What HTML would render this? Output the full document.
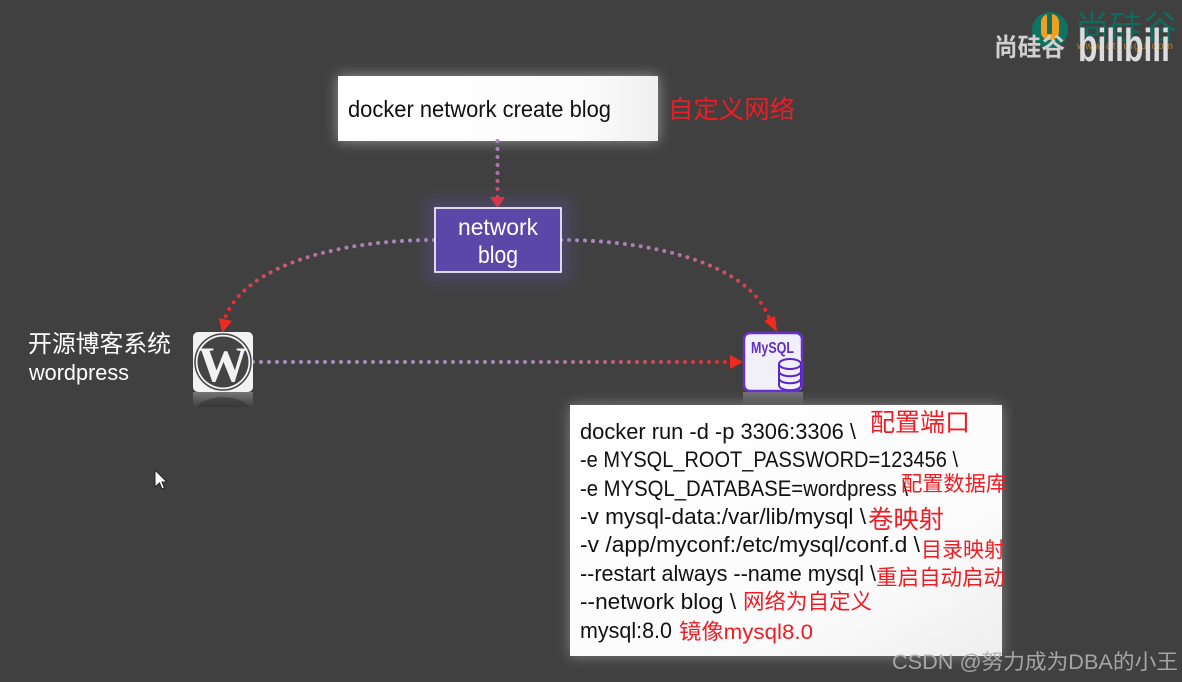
<!DOCTYPE html>
<html><head><meta charset="utf-8">
<style>
html,body{margin:0;padding:0;background:#404040}
svg{display:block}
text{font-family:"Liberation Sans","Noto Sans CJK SC",sans-serif}
.c{font-size:22px;fill:#111}
.r{fill:#f01c24}
</style></head>
<body>
<svg width="1182" height="682" viewBox="0 0 1182 682" xmlns="http://www.w3.org/2000/svg">
<defs>
<filter id="b" x="-20%" y="-30%" width="140%" height="160%"><feGaussianBlur stdDeviation="7"/></filter>
<linearGradient id="white" x1="0" x2="1" y1="0" y2="0"><stop offset="0" stop-color="#fff"/><stop offset="0.75" stop-color="#fcfcfc"/><stop offset="1" stop-color="#f0f0f0"/></linearGradient>
<linearGradient id="white2" x1="0" x2="1" y1="0" y2="1"><stop offset="0" stop-color="#fff"/><stop offset="0.7" stop-color="#fbfbfb"/><stop offset="1" stop-color="#eeeeee"/></linearGradient>
<linearGradient id="gv" gradientUnits="userSpaceOnUse" x1="0" y1="141" x2="0" y2="205"><stop offset="0" stop-color="#a78cc8"/><stop offset="0.5" stop-color="#b070a8"/><stop offset="1" stop-color="#e03040"/></linearGradient>
<linearGradient id="gh" gradientUnits="userSpaceOnUse" x1="253" y1="0" x2="740" y2="0"><stop offset="0" stop-color="#a78cc8"/><stop offset="0.55" stop-color="#a888c0"/><stop offset="1" stop-color="#f02020"/></linearGradient>
<linearGradient id="gl" gradientUnits="userSpaceOnUse" x1="434" y1="240" x2="222" y2="330"><stop offset="0" stop-color="#a78cc8"/><stop offset="0.45" stop-color="#b07aa8"/><stop offset="1" stop-color="#f02020"/></linearGradient>
<linearGradient id="gr" gradientUnits="userSpaceOnUse" x1="561" y1="240" x2="772" y2="330"><stop offset="0" stop-color="#a78cc8"/><stop offset="0.45" stop-color="#b07aa8"/><stop offset="1" stop-color="#f02020"/></linearGradient>
<linearGradient id="ref" x1="0" x2="0" y1="0" y2="1"><stop offset="0" stop-color="#aaa" stop-opacity=".5"/><stop offset="1" stop-color="#aaa" stop-opacity="0"/></linearGradient>
</defs>

<rect width="1182" height="682" fill="#404040"/>

<!-- logo -->
<circle cx="1050" cy="30" r="18" fill="#0f7364"/>
<rect x="1041" y="14" width="18" height="26" rx="8" fill="#eda020"/>
<rect x="1047" y="14" width="5" height="20" fill="#0f6f60"/>
<text x="1075" y="39" font-size="33" fill="#0f6b5c" textLength="102" lengthAdjust="spacingAndGlyphs">尚硅谷</text>
<text x="1077" y="49" font-size="10" fill="#b08828" textLength="96" lengthAdjust="spacing">www.atguigu.com</text>
<text x="994" y="56" font-size="25" font-weight="bold" fill="#d0d0d0" textLength="71" lengthAdjust="spacingAndGlyphs">尚硅谷</text>
<text x="1078" y="61" font-size="46" font-weight="bold" fill="#dcdcdc" textLength="92" lengthAdjust="spacingAndGlyphs">bilibili</text>

<!-- top box -->
<rect x="338" y="76" width="320" height="65" fill="#fff" opacity=".45" filter="url(#b)"/>
<rect x="338" y="76" width="320" height="65" fill="url(#white)"/>
<text x="348" y="117" font-size="23" fill="#111" textLength="263" lengthAdjust="spacingAndGlyphs">docker network create blog</text>
<text x="668" y="118" font-size="25" class="r" textLength="127" lengthAdjust="spacingAndGlyphs">自定义网络</text>

<!-- connectors -->
<g fill="none" stroke-width="4" stroke-linecap="round" stroke-dasharray="0 8">
<path d="M497.500 141 V198" stroke="url(#gv)"/>
<path d="M434 240 C340 240 245 265 225 318" stroke="url(#gl)"/>
<path d="M561 240 C655 240 750 265 769 318" stroke="url(#gr)"/>
<path d="M253 362 H730" stroke="url(#gh)"/>
</g>
<polygon points="490,197 505,197 497.500,208" fill="#ef3030"/>
<polygon points="219,318 232,321 222,333" fill="#f02a20"/>
<polygon points="764,321 775,316 777,332" fill="#f02a20"/>
<polygon points="730,355 730,369 743,362" fill="#f02a20"/>

<!-- network box -->
<rect x="425" y="198" width="146" height="84" fill="#6a58b8" opacity=".3" filter="url(#b)"/>
<rect x="435" y="208" width="126" height="64" fill="#5a48a8" stroke="#fff" stroke-width="1.600"/>
<text x="458" y="235" font-size="23" fill="#fff" textLength="80" lengthAdjust="spacingAndGlyphs">network</text>
<text x="478" y="263" font-size="24" fill="#fff" textLength="40" lengthAdjust="spacingAndGlyphs">blog</text>

<!-- wordpress -->
<text x="28" y="352" font-size="24" fill="#fff" textLength="143" lengthAdjust="spacingAndGlyphs">开源博客系统</text>
<text x="29" y="380" font-size="22" fill="#fff" textLength="100" lengthAdjust="spacingAndGlyphs">wordpress</text>
<rect x="193" y="392" width="60" height="15" fill="url(#ref)"/>
<path d="M197 407 C205 394 241 394 249 407 Z" fill="#333" opacity=".6"/>
<rect x="193" y="332" width="60" height="60" rx="5" fill="#f2f2f2"/>
<circle cx="223" cy="362" r="28" fill="#f2f2f2" stroke="#444" stroke-width="1.500"/>
<circle cx="223" cy="362" r="25.500" fill="#444"/>
<text x="223" y="381" font-size="50" font-weight="bold" fill="#f2f2f2" text-anchor="middle" style="font-family:'Liberation Serif',serif" textLength="50" lengthAdjust="spacingAndGlyphs">W</text>

<!-- mysql -->
<rect x="743" y="392" width="60" height="13" fill="url(#ref)"/>
<rect x="744" y="333" width="58" height="58" rx="6" fill="#f1eff7" stroke="#6a30cc" stroke-width="2.500"/>
<text x="751" y="353" font-size="15.500" font-weight="bold" fill="#6030c0" textLength="43" lengthAdjust="spacingAndGlyphs">MySQL</text>
<rect x="778" y="358" width="23" height="31" fill="#f1eff7"/>
<g fill="none" stroke="#5a28c8" stroke-width="2">
<path d="M779 364 V385 C779 392 801 392 801 385 V364" />
<path d="M779 371 C779 378 801 378 801 371"/>
<path d="M779 378 C779 385 801 385 801 378"/>
<ellipse cx="790" cy="364" rx="11" ry="5" fill="#f1eff7"/>
</g>

<!-- code box -->
<rect x="570" y="405" width="432" height="251" fill="#fff" opacity=".35" filter="url(#b)"/>
<rect x="570" y="405" width="432" height="251" fill="url(#white2)"/>
<text class="c" x="580" y="439" textLength="276" lengthAdjust="spacingAndGlyphs">docker run -d -p 3306:3306 \</text>
<text class="c" x="580" y="467" textLength="378" lengthAdjust="spacingAndGlyphs">-e MYSQL_ROOT_PASSWORD=123456 \</text>
<text class="c" x="580" y="496" textLength="328" lengthAdjust="spacingAndGlyphs">-e MYSQL_DATABASE=wordpress \</text>
<text class="c" x="580" y="524" textLength="286" lengthAdjust="spacingAndGlyphs">-v mysql-data:/var/lib/mysql \</text>
<text class="c" x="580" y="552" textLength="340" lengthAdjust="spacingAndGlyphs">-v /app/myconf:/etc/mysql/conf.d \</text>
<text class="c" x="580" y="581" textLength="296" lengthAdjust="spacingAndGlyphs">--restart always --name mysql \</text>
<text class="c" x="580" y="609" textLength="156" lengthAdjust="spacingAndGlyphs">--network blog \</text>
<text class="c" x="580" y="638" textLength="92" lengthAdjust="spacingAndGlyphs">mysql:8.0</text>

<text class="r" x="870" y="431" font-size="25" textLength="100" lengthAdjust="spacingAndGlyphs">配置端口</text>
<text class="r" x="901" y="491" font-size="21" textLength="106" lengthAdjust="spacingAndGlyphs">配置数据库</text>
<text class="r" x="868" y="528" font-size="25" textLength="76" lengthAdjust="spacingAndGlyphs">卷映射</text>
<text class="r" x="921" y="557" font-size="21" textLength="84" lengthAdjust="spacingAndGlyphs">目录映射</text>
<text class="r" x="876" y="585" font-size="21.500" textLength="129" lengthAdjust="spacingAndGlyphs">重启自动启动</text>
<text class="r" x="743" y="609" font-size="21.500" textLength="129" lengthAdjust="spacingAndGlyphs">网络为自定义</text>
<text class="r" x="679" y="639" font-size="21.500" textLength="134" lengthAdjust="spacingAndGlyphs">镜像mysql8.0</text>

<!-- cursor -->
<polygon points="155,470 155,487 159.500,483 162,489 164.500,488 162,482 167,482" fill="#fff" stroke="#222" stroke-width="1"/>

<!-- watermark -->
<text x="892" y="669" font-size="21" fill="#b0b0b0" fill-opacity=".9" textLength="286" lengthAdjust="spacingAndGlyphs">CSDN @努力成为DBA的小王</text>
</svg>
</body></html>
